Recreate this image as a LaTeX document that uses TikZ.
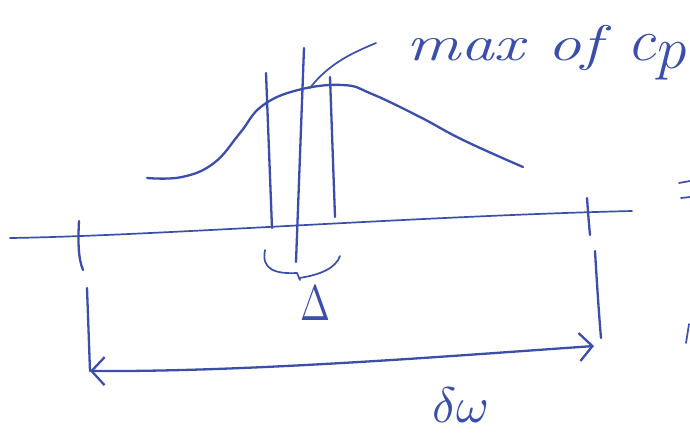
\documentclass[tikz,border=0pt]{standalone}
\usetikzlibrary{arrows.meta}
\definecolor{pen}{RGB}{58,78,170}
\begin{document}
\begin{tikzpicture}[x=1pt,y=-1pt,
  stroke/.style={draw=pen, line width=2.3pt, line cap=round, line join=round},
  thin stroke/.style={draw=pen, line width=1.7pt, line cap=round, line join=round},
  barb/.style={stroke, {Straight Barb[length=13pt,width=28pt]}-{Straight Barb[length=13pt,width=28pt]}},
  hand/.style={text=pen, inner sep=0pt, anchor=base west}]
\useasboundingbox (0,0) rectangle (690,432);
\clip (0,0) rectangle (690,432);

% horizontal axis
\coordinate (axL) at (10,238);
\coordinate (axR) at (632,211);
\draw[thin stroke] (axL) .. controls (150,236) and (420,216) .. (axR);

% ticks on the axis
\coordinate (tlT) at (79,221); \coordinate (tlB) at (83,270);
\draw[stroke] (tlT) .. controls (78,240) and (78,258) .. (tlB);
\coordinate (trT) at (587,198); \coordinate (trB) at (590,235);
\draw[stroke] (trT) .. controls (588,212) and (589,225) .. (trB);

% width bracket with double arrow
\coordinate (blT) at (87,288); \coordinate (blB) at (90,371);
\draw[stroke] (blT) -- (blB);
\coordinate (brT) at (595,251); \coordinate (brB) at (601,338);
\draw[stroke] (brT) .. controls (597,285) and (599,315) .. (brB);
\coordinate (arL) at (90,371); \coordinate (arR) at (594,346);
\draw[barb] (arL) .. controls (250,372) and (450,356) .. (arR);

% curve
\draw[stroke] plot[smooth, tension=0.7] coordinates {(147,178) (182,177) (214,163) (240,133) (262,106) (298,90) (343,85) (372,94) (420,117) (463,140) (523,167)};

% vertical lines
\coordinate (v1T) at (266,73);  \coordinate (v1B) at (272,228);
\coordinate (v2T) at (304,48);  \coordinate (v2B) at (296,262);
\coordinate (v3T) at (330,77);  \coordinate (v3B) at (335,217);
\draw[stroke] (v1T) -- (v1B);
\draw[stroke] (v2T) -- (v2B);
\draw[stroke] (v3T) -- (v3B);

% label max of c_p with leader
\node[hand, font=\itshape\fontsize{50}{50}\selectfont] (maxlabel) at (406,60)
  {\scalebox{1.35}[1]{max of}\hspace{30pt}\scalebox{2.4}{$c_p$}};
\coordinate (peak) at (310,88);
\coordinate (leadEnd) at (376,43);
\draw[thin stroke] (peak) .. controls (330,62) and (355,52) .. (leadEnd);

% brace under the lines
\coordinate (brcL) at (265,250);
\coordinate (brcM) at (300,280);
\coordinate (brcR) at (340,256);
\draw[thin stroke] (brcL) .. controls (261,270) and (276,274) .. (297,273) -- (brcM);
\draw[thin stroke] (299,278) .. controls (320,275) and (336,268) .. (brcR);

% Delta label
\node[hand] (deltalabel) at (300,320) {\scalebox{3.6}[5]{$\Delta$}};

% delta omega label
\node[hand] (dwlabel) at (432,422) {\scalebox{5}{$\delta\omega$}};

% fragments at the right edge
\coordinate (f1a) at (679,183); \coordinate (f1b) at (690,181);
\coordinate (f2a) at (681,198); \coordinate (f2b) at (690,197);
\coordinate (f3a) at (689,324); \coordinate (f3b) at (686,343);
\draw[thin stroke] (f1a) -- (f1b);
\draw[thin stroke] (f2a) -- (f2b);
\draw[thin stroke] (f3a) -- (f3b);
\end{tikzpicture}
\end{document}
